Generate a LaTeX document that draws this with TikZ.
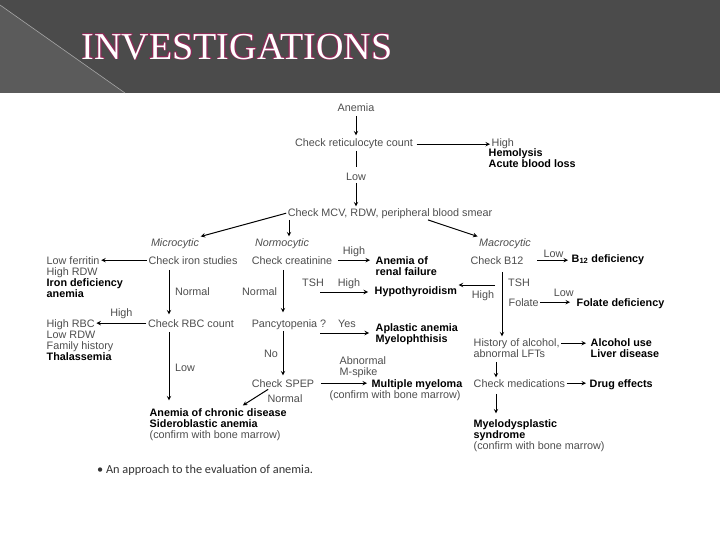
\documentclass[tikz,border=0pt]{standalone}
\usepackage{fontspec}
\setmainfont{Liberation Sans}
\newfontfamily\headfont{Liberation Serif}
\newfontfamily\notefont{Carlito}
\usepackage{tikz}
\usetikzlibrary{arrows, positioning}
\definecolor{slide}{HTML}{4B4B4B}
\definecolor{slidecorner}{HTML}{5B5B5B}
\definecolor{headedge}{HTML}{8E2A58}
\definecolor{ink}{HTML}{4E4E4E}
\tikzstyle{test} = [inner sep=1.5pt, font=\fontsize{10.8}{11}\selectfont, text=ink, anchor=base]
\tikzstyle{finding} = [test, anchor=base west, align=left]
\tikzstyle{dx} = [finding, font=\fontsize{10.8}{11}\selectfont\bfseries, text=black]
\tikzstyle{kind} = [test, font=\fontsize{10.8}{11}\selectfont\itshape]
\tikzstyle{head} = [font=\headfont\fontsize{38}{38}\selectfont, inner sep=0pt]
\tikzstyle{arrow2} = [line width=1pt,->,>=stealth]
\tikzstyle{line2} = [line width=1pt]

\begin{document}
\begin{tikzpicture}[x=1pt, y=-1pt]
    \useasboundingbox (0,0) rectangle (720,540);

    % Slide background
    \fill[white] (0,0) rectangle (720,540);
    \fill[slide] (0,0) rectangle (720,93);
    \fill[slidecorner] (0,5) -- (125,93) -- (0,93) -- cycle;
    \draw[gray!70, line width=0.6pt] (0,5) -- (125,93);

    % Title
    \foreach \dx/\dy [count=\i] in {-0.7/0, 0.7/0, 0/-0.7, 0/0.7, -0.5/-0.5, 0.5/0.5, -0.5/0.5, 0.5/-0.5}
        \node (rim\i) [head, text=headedge] at ([shift={(\dx,\dy)}]237,47) {INVESTIGATIONS};
    \node (title) [head, text=white] at (237,47) {INVESTIGATIONS};

    % Place nodes (multi-line nodes sit on the baseline of their last line)
    \node (anemia) [test] at (356,112) {Anemia};
    \node (retic) [test] at (354,147) {Check reticulocyte count};
    \node (high) [finding] at (490,147) {High};
    \node (hemo) [dx] at (487,168) {Hemolysis\\Acute blood loss};
    \node (lowret) [test] at (356,181) {Low};
    \node (smear) [test] at (390,216) {Check MCV, RDW, peripheral blood smear};

    \node (micro) [kind] at (175,246) {Microcytic};
    \node (normo) [kind] at (282,246) {Normocytic};
    \node (macro) [kind] at (505,246) {Macrocytic};

    % microcytic column
    \node (iron) [test] at (193,264) {Check iron studies};
    \node (ferr) [finding] at (45,275) {Low ferritin\\High RDW};
    \node (ida) [dx] at (45,297) {Iron deficiency\\anemia};
    \node (rbc) [test] at (191,327) {Check RBC count};
    \node (hrbc) [finding] at (45,327) {High RBC};
    \node (family) [finding] at (45,349) {Low RDW\\Family history};
    \node (thal) [dx] at (45,360) {Thalassemia};
    \node (acd) [dx] at (148,427) {Anemia of chronic disease\\Sideroblastic anemia};
    \node (acdbm) [finding] at (148,438) {(confirm with bone marrow)};

    % normocytic column
    \node (creat) [test] at (292,264) {Check creatinine};
    \node (renal) [dx] at (374,275) {Anemia of\\renal failure};
    \node (tsh) [test] at (313,286) {TSH};
    \node (tshhigh) [test] at (349,286) {High};
    \node (hypo) [dx] at (373,294) {Hypothyroidism};
    \node (pancy) [test] at (289,327) {Pancytopenia ?};
    \node (aplas) [dx] at (374,342) {Aplastic anemia\\Myelophthisis};
    \node (mspike) [finding] at (338,375) {Abnormal\\M-spike};
    \node (spep) [test] at (283,387) {Check SPEP};
    \node (spepnorm) [test] at (285,402) {Normal};
    \node (myel) [dx] at (370,387) {Multiple myeloma};
    \node (myelbm) [finding] at (328,398) {(confirm with bone marrow)};

    % macrocytic column
    \node (bchk) [test] at (497,264) {Check B12};
    \node (bdef) [dx] at (570,262) {B$_{\mathbf{12}}$ deficiency};
    \node (tshr) [test] at (519,286) {TSH};
    \node (highr) [test] at (483,298) {High};
    \node (folate) [finding] at (507,306) {Folate};
    \node (fdef) [dx] at (575,306) {Folate deficiency};
    \node (alc) [finding] at (472,346) {History of alcohol,};
    \node (alc2) [finding] at (472,357) {abnormal LFTs};
    \node (liver) [dx] at (589,357) {Alcohol use\\Liver disease};
    \node (meds) [finding] at (472,387) {Check medications};
    \node (drug) [dx] at (588,387) {Drug effects};
    \node (mds) [dx] at (472,438) {Myelodysplastic\\syndrome};
    \node (mdsbm) [finding] at (472,449) {(confirm with bone marrow)};

    \coordinate (tshl) at (320,292);
    \coordinate (tshrr) at (495,285);
    \coordinate (yesl) at (320,333);

    \node (caption) [anchor=base west, inner sep=0pt, font=\notefont\fontsize{12.3}{14}\selectfont, text=black!80] at (97,473) {• An approach to the evaluation of anemia.};

    % Draw edges
    \draw [arrow2, shorten <=2pt, shorten >=2pt] (anemia.south) -- (anemia.south |- retic.north);
    \draw [arrow2, shorten <=2pt] (retic.east) -- (retic.east -| high.west);
    \draw [line2, shorten >=5pt] (lowret.north |- retic.south) -- (lowret.north);
    \draw [arrow2] (lowret.south) -- (lowret.south |- smear.north);
    \draw [arrow2] (smear.west) -- (micro.north east);
    \draw [arrow2] ([xshift=7pt]normo.north |- smear.south) -- ([xshift=7pt]normo.north);
    \draw [arrow2] ([xshift=38pt]smear.south) -- (macro.north west);

    \draw [arrow2] (iron.west) -- (iron.west -| ferr.east);
    \draw [arrow2, shorten <=4pt, shorten >=3pt] ([xshift=-24pt]iron.south) -- node[test, anchor=west, xshift=4pt] {Normal} ([xshift=-24pt]iron.south |- rbc.north);
    \draw [arrow2] (rbc.west) -- node[test, above, yshift=2pt] {High} (rbc.west -| hrbc.east);
    \draw [arrow2, shorten <=3pt, shorten >=6pt] ([xshift=-22pt]rbc.south) -- node[test, anchor=west, xshift=4pt] {Low} ([xshift=-22pt]rbc.south |- acd.north);

    \draw [arrow2, shorten <=4pt, shorten >=4pt] (creat.east) -- node[test, above, yshift=1pt] {High} (creat.east -| renal.west);
    \draw [arrow2, shorten <=4pt, shorten >=5pt] ([xshift=-9pt]creat.south) -- node[test, anchor=east, xshift=-4pt] {Normal} ([xshift=-9pt]creat.south |- pancy.north);
    \draw [arrow2, shorten >=5pt] (tshl) -- (tshl -| hypo.west);
    \draw [arrow2, shorten >=5pt] (yesl) -- node[test, above, yshift=3pt] {Yes} (yesl -| aplas.west);
    \draw [arrow2, shorten >=2pt] ([xshift=-6pt]pancy.south) -- node[test, anchor=east, xshift=-3pt] {No} ([xshift=-6pt]pancy.south |- spep.north);
    \draw [arrow2, shorten <=5pt, shorten >=3pt] (spep.east) -- (spep.east -| myel.west);
    \draw [arrow2, shorten <=1pt, shorten >=2pt] ([xshift=-14pt]spep.south) -- ([xshift=23pt]acd.north);

    \draw [arrow2, shorten <=12pt, shorten >=2pt] (bchk.east) -- node[test, above, xshift=6pt, yshift=1pt] {Low} (bchk.east -| bdef.west);
    \draw [arrow2, shorten <=6pt] ([xshift=5pt]bchk.south) -- ([xshift=5pt]bchk.south |- alc.north);
    \draw [arrow2] (tshrr) -- (tshrr -| hypo.east);
    \draw [arrow2, shorten >=5pt] (folate.east) -- node[test, above, xshift=6pt, yshift=4pt] {Low} (folate.east -| fdef.west);
    \draw [arrow2, shorten >=3pt] (alc.east) -- (alc.east -| liver.west);
    \draw [arrow2, shorten <=3pt] ([xshift=24pt]alc2.south west) -- ([xshift=24pt]alc2.south west |- meds.north);
    \draw [arrow2, shorten >=2pt] (meds.east) -- (meds.east -| drug.west);
    \draw [arrow2, shorten <=5pt, shorten >=4pt] ([xshift=24pt]meds.south west) -- ([xshift=24pt]meds.south west |- mds.north);
\end{tikzpicture}
\end{document}
